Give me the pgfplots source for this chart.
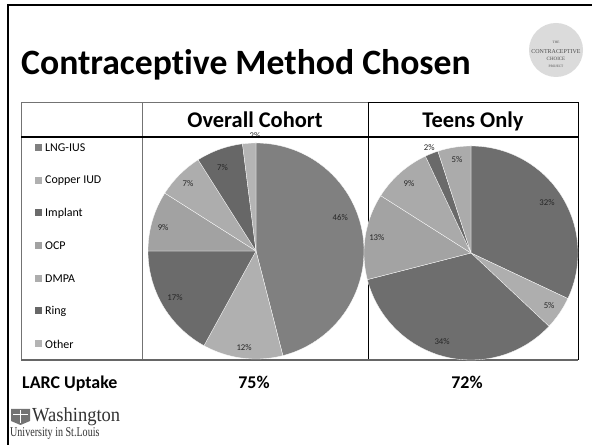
\documentclass[border=0pt]{standalone}
\usepackage{fontspec}
\setmainfont{Carlito}[Ligatures=NoCommon]
\newfontfamily\seriffont{Liberation Serif}
\usepackage{pgfplots}
\usepackage{pgfplotstable}
\pgfplotsset{compat=1.18}

% overall pie colours
\definecolor{oc0}{HTML}{808080}
\definecolor{oc1}{HTML}{B0B0B0}
\definecolor{oc2}{HTML}{6B6B6B}
\definecolor{oc3}{HTML}{A2A2A2}
\definecolor{oc4}{HTML}{ADADAD}
\definecolor{oc5}{HTML}{676767}
\definecolor{oc6}{HTML}{B4B4B4}
% teens pie colours
\definecolor{tc0}{HTML}{6E6E6E}
\definecolor{tc1}{HTML}{AEAEAE}
\definecolor{tc2}{HTML}{6E6E6E}
\definecolor{tc3}{HTML}{A3A3A3}
\definecolor{tc4}{HTML}{AAAAAA}
\definecolor{tc5}{HTML}{6A6A6A}
\definecolor{tc6}{HTML}{ABABAB}

\pgfplotstableread{
method overall teens olx oly tlx tly
LNG-IUS 46 32 0.78 0.31 0.71 0.47
CopperIUD 12 5 -0.11 -0.89 0.73 -0.49
Implant 17 34 -0.75 -0.43 -0.27 -0.83
OCP 9 13 -0.86 0.22 -0.88 0.14
DMPA 7 9 -0.63 0.62 -0.58 0.65
Ring 7 2 -0.31 0.77 -0.39 0.99
Other 2 5 -0.01 1.065 -0.13 0.87
}\piedata

\newcommand\pielabfont{\fontsize{8.8}{9}\selectfont}

\newcommand\drawpie[4]{%
  \xdef\cum{90}%
  \pgfplotsforeachungrouped \i in {0,...,6}{%
    \pgfplotstablegetelem{\i}{#1}\of\piedata \let\v\pgfplotsretval
    \pgfmathsetmacro\a{\cum}%
    \pgfmathsetmacro\b{\cum-3.6*\v}%
    \edef\tmp{\noexpand\addplot[fill=#4\i, draw=white, line width=0.3pt, domain=\b:\a, samples=60] ({cos(x)},{sin(x)}) -- (axis cs:0,0) -- cycle;}%
    \tmp
    \xdef\cum{\b}%
  }%
  \pgfplotsforeachungrouped \i in {0,...,6}{%
    \pgfplotstablegetelem{\i}{#1}\of\piedata \let\v\pgfplotsretval
    \pgfplotstablegetelem{\i}{#2}\of\piedata \let\lx\pgfplotsretval
    \pgfplotstablegetelem{\i}{#3}\of\piedata \let\ly\pgfplotsretval
    \edef\tmp{\noexpand\node[font=\noexpand\pielabfont, text=black!85, inner sep=0pt] at (axis cs:\lx,\ly) {\v\noexpand\%};}%
    \tmp
  }%
}

\begin{document}
\begin{tikzpicture}[x=1bp,y=1bp]
\fill[white] (0,0) rectangle (592,445);
\path[use as bounding box] (0,0) rectangle (592,445);

% slide border
\draw[black, line width=2pt] (8,0) -- (8,440) -- (592,440);

% title
\node[anchor=base west, inner sep=0pt, font=\fontsize{35.8}{38}\selectfont\bfseries] at (21,370) {Contraceptive Method Chosen};

% Contraceptive Choice logo
\fill[black!14] (556,395) circle (27);
\node[inner sep=0pt, font=\seriffont\fontsize{3.5}{4}\selectfont, text=black!70] at (556,403) {THE};
\node[inner sep=0pt, font=\seriffont\fontsize{6}{6}\selectfont, text=black!70] at (556,393) {CONTRACEPTIVE};
\node[inner sep=0pt, font=\seriffont\fontsize{5}{5}\selectfont, text=black!70] at (556,386) {CHOICE};
\node[inner sep=0pt, font=\seriffont\fontsize{3.5}{4}\selectfont, text=black!70] at (556,379) {PROJECT};

% table lines
\draw[black!55, line width=1pt] (21,85) -- (21,342) -- (368,342);
\draw[black, line width=1pt] (368,342) -- (578,342) -- (578,85);
\draw[black!55, line width=1pt] (142,85) -- (142,342);
\draw[black, line width=1pt] (368,85) -- (368,342);
\draw[black!60, line width=1.2pt] (21,85) -- (578,85);

% pies
\begin{axis}[at={(256bp,194bp)}, anchor=center, scale only axis,
  width=216bp, height=216bp, xmin=-1, xmax=1, ymin=-1, ymax=1,
  hide axis, clip=false]
  \drawpie{overall}{olx}{oly}{oc}
\end{axis}
\begin{axis}[at={(471bp,192bp)}, anchor=center, scale only axis,
  width=214bp, height=214bp, xmin=-1, xmax=1, ymin=-1, ymax=1,
  hide axis, clip=false]
  \drawpie{teens}{tlx}{tly}{tc}
\end{axis}

\draw[black, line width=2pt] (21,308) -- (578,308);

% header
\node[anchor=base, inner sep=0pt, font=\fontsize{22.5}{24}\selectfont\bfseries] at (255,317) {Overall Cohort};
\node[anchor=base, inner sep=0pt, font=\fontsize{22.5}{24}\selectfont\bfseries] at (473,317) {Teens Only};

% legend
\foreach \yy/\c/\t in {297/oc0/LNG-IUS, 264/oc1/Copper IUD, 232/oc2/Implant, 199/oc3/OCP, 166/oc4/DMPA, 134/oc5/Ring, 101/oc6/Other}{
  \fill[\c] (35,\yy-3.5) rectangle (42,\yy+3.5);
  \node[anchor=west, inner sep=0pt, font=\fontsize{12}{13}\selectfont] at (45,\yy) {\t};
}

% LARC uptake row
\node[anchor=base west, inner sep=0pt, font=\fontsize{18}{20}\selectfont\bfseries] at (22,56) {LARC Uptake};
\node[anchor=base, inner sep=0pt, font=\fontsize{18}{20}\selectfont\bfseries] at (254,56) {75\%};
\node[anchor=base, inner sep=0pt, font=\fontsize{18}{20}\selectfont\bfseries] at (467,56) {72\%};

% Washington University logo
\fill[black!55] (11,24) -- (11,36) -- (30,36) -- (30,24) -- (20.5,20) -- cycle;
\fill[white] (13,30) rectangle (28,31);
\fill[white] (20,22) rectangle (21,35);
\node[anchor=base west, inner sep=0pt, font=\seriffont\fontsize{20}{21}\selectfont, text=black!80, xscale=0.93] at (32,23) {Washington};
\node[anchor=base west, inner sep=0pt, font=\seriffont\fontsize{13.5}{14}\selectfont, text=black!80, xscale=0.75] at (10,8) {University in St.Louis};
\end{tikzpicture}
\end{document}
